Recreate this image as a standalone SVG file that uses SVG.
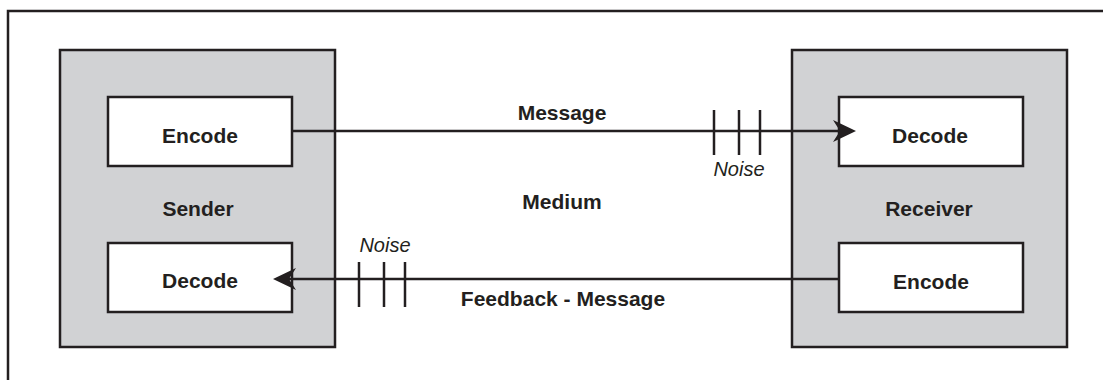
<svg xmlns="http://www.w3.org/2000/svg" width="1103" height="380" viewBox="0 0 1103 380">
<style>
.outer{fill:#d1d2d4;stroke:#231f20;stroke-width:2.5}
.inner{fill:#ffffff;stroke:#231f20;stroke-width:2.5}
.lbl{font-family:"Liberation Sans",Arial,sans-serif;font-weight:bold;font-size:21px;fill:#231f20;text-anchor:middle}
.noise{font-family:"Liberation Sans",Arial,sans-serif;font-style:italic;font-size:20px;fill:#231f20;text-anchor:middle}
.ln{stroke:#231f20;stroke-width:2.5;fill:none}
.tick{stroke:#231f20;stroke-width:2.5}
.head{fill:#231f20}
</style>
<rect width="1103" height="380" fill="#ffffff"/>
<path class="ln" d="M8,382 V11 H1103"/>
<g id="sender">
<rect class="outer" x="60" y="50" width="275" height="297"/>
<text class="lbl" x="198" y="216">Sender</text>
</g>
<g id="sender-encode">
<rect class="inner" x="108" y="97" width="184" height="69"/>
<text class="lbl" x="200" y="143">Encode</text>
</g>
<g id="sender-decode">
<rect class="inner" x="108" y="243" width="184" height="69"/>
<text class="lbl" x="200" y="288">Decode</text>
</g>
<g id="receiver">
<rect class="outer" x="792" y="50" width="275" height="297"/>
<text class="lbl" x="929" y="216">Receiver</text>
</g>
<g id="receiver-decode">
<rect class="inner" x="839" y="97" width="184" height="69"/>
<text class="lbl" x="930" y="143">Decode</text>
</g>
<g id="receiver-encode">
<rect class="inner" x="839" y="243" width="184" height="69"/>
<text class="lbl" x="931" y="289">Encode</text>
</g>
<g id="medium">
<text class="lbl" x="562" y="209">Medium</text>
</g>
<g id="connectors">
<line class="ln" x1="292" y1="131" x2="842" y2="131"/>
<path class="head" d="M856,131 L833,120 L840,131 L833,142 Z"/>
<text class="lbl" x="562" y="120">Message</text>
<line class="tick" x1="714" y1="110" x2="714" y2="155"/>
<line class="tick" x1="739" y1="110" x2="739" y2="155"/>
<line class="tick" x1="760" y1="110" x2="760" y2="155"/>
<text class="noise" x="739" y="176">Noise</text>
<line class="ln" x1="839" y1="279" x2="287" y2="279"/>
<path class="head" d="M273,279 L296,268 L289,279 L296,290 Z"/>
<text class="lbl" x="563" y="306">Feedback - Message</text>
<line class="tick" x1="359" y1="262" x2="359" y2="307"/>
<line class="tick" x1="384" y1="262" x2="384" y2="307"/>
<line class="tick" x1="405" y1="262" x2="405" y2="307"/>
<text class="noise" x="385" y="252">Noise</text>
</g>
</svg>
